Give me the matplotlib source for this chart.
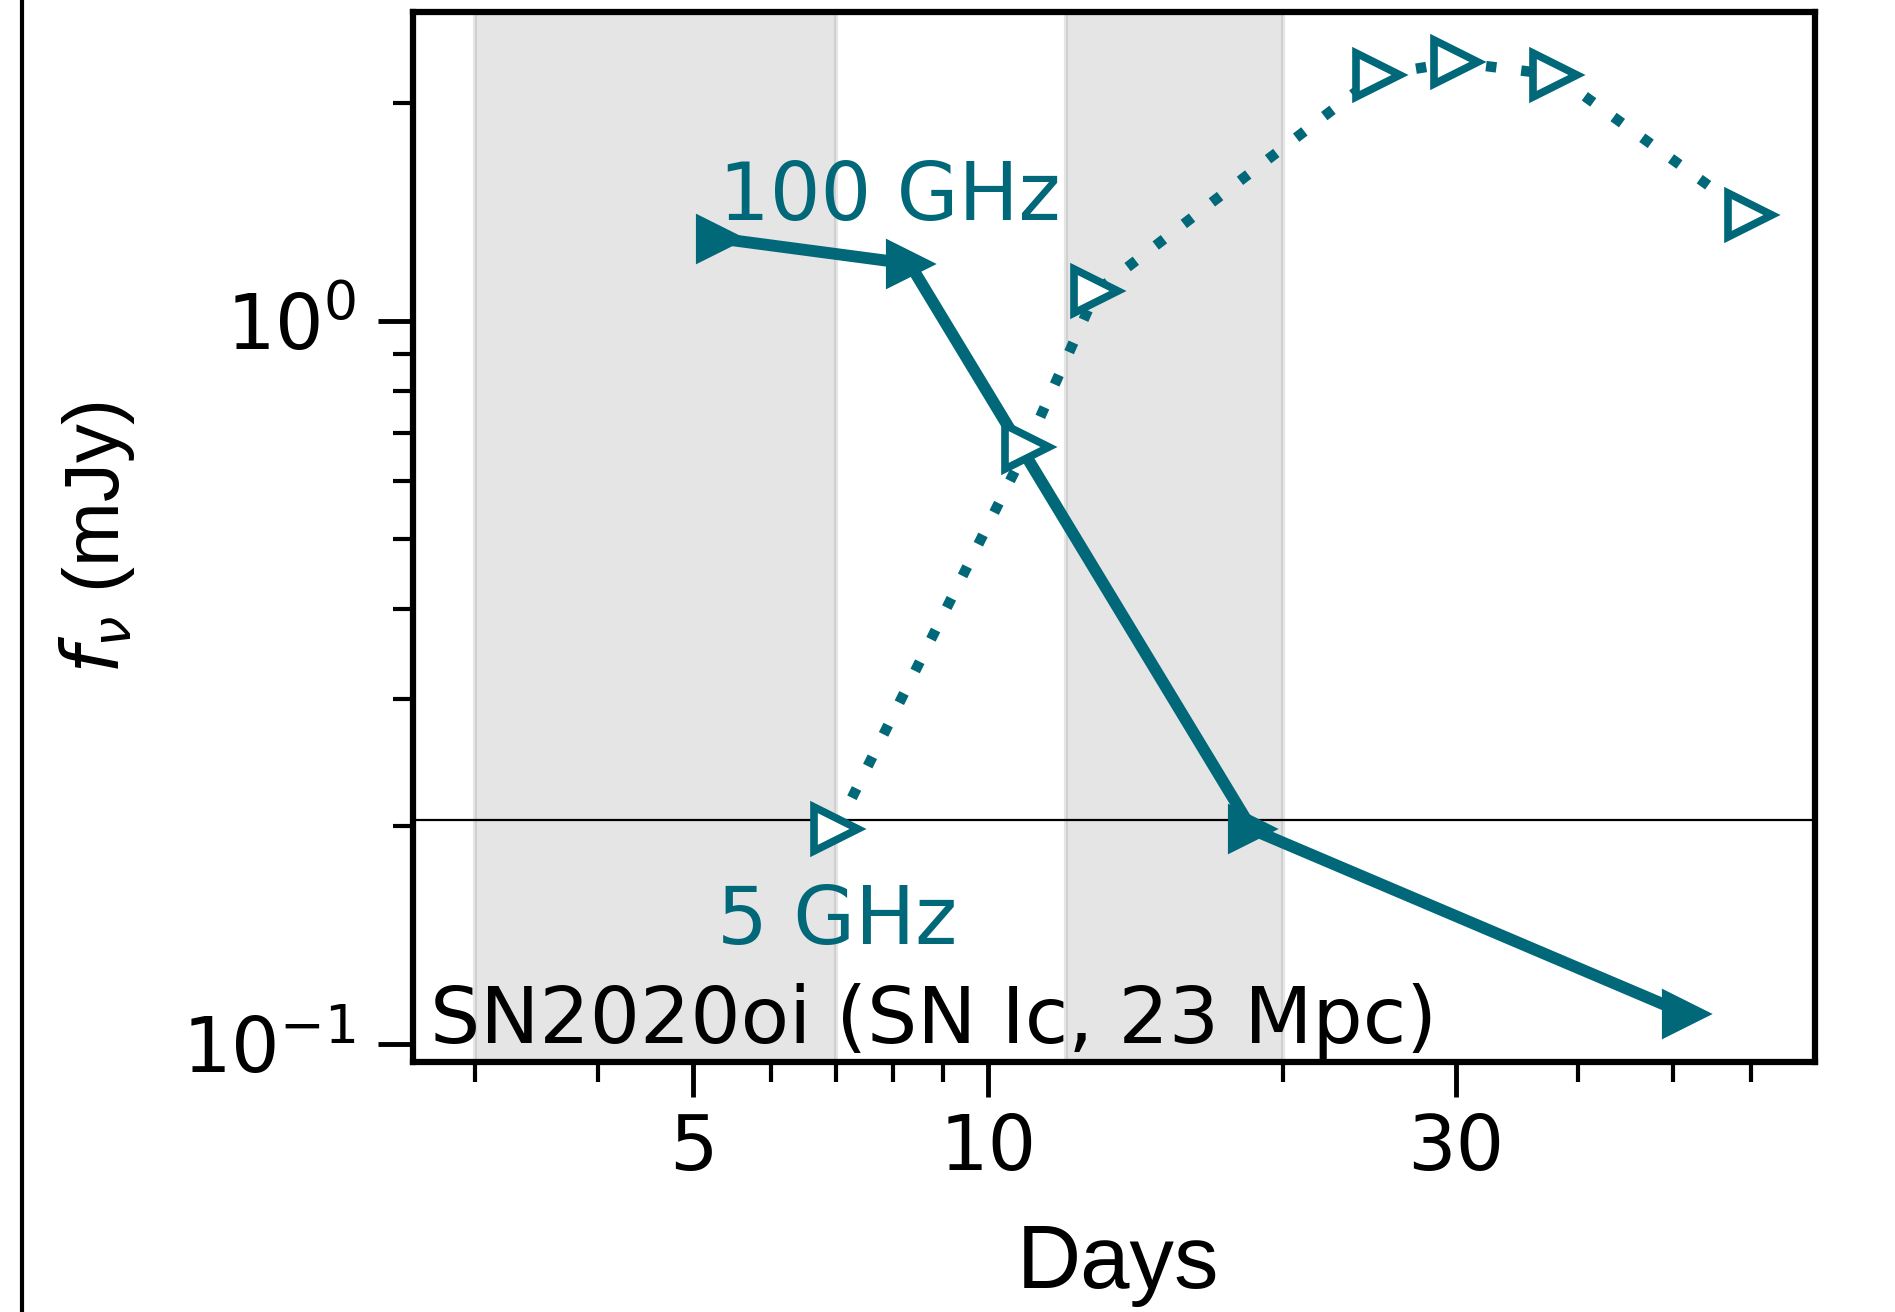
import matplotlib
matplotlib.use("Agg")
import matplotlib.pyplot as plt
from matplotlib.lines import Line2D
from matplotlib.ticker import FixedLocator, NullFormatter, FixedFormatter

plt.rcParams['mathtext.fontset'] = 'dejavusans'

# data (days, mJy)
days_100 = [5.33, 8.32, 18.6, 51.6]
flux_100 = [1.30, 1.20, 0.198, 0.11]
days_5 = [7.0, 10.96, 12.9, 25.0, 30.0, 37.9, 59.9]
flux_5 = [0.198, 0.67, 1.10, 2.19, 2.28, 2.19, 1.40]
shade_spans = [(3, 7), (12, 20)]
threshold = 0.204
xticks_major = [5, 10, 30]
teal = '#006878'

fig = plt.figure(figsize=(18.95, 13.12), dpi=100)
ax = fig.add_axes([0.2179, 0.1905, 0.7399, 0.8004])

for a, b in shade_spans:
    ax.axvspan(a, b, color='grey', alpha=0.2, lw=3, zorder=0)
ax.axhline(threshold, color='black', lw=1.6, zorder=1)

ax.plot(days_100, flux_100, '-', marker='>', color=teal, lw=8.5,
        ms=32, mew=3, zorder=3)
ax.plot(days_5, flux_5, linestyle=(0, (1, 2.4)), marker='>', color=teal, lw=7.5,
        ms=32, mew=5.5, mfc='white', zorder=3)

ax.set_xscale('log')
ax.set_yscale('log')
ax.set_xlim(2.59, 69.8)
ax.set_ylim(0.0944, 2.676)

ax.xaxis.set_major_locator(FixedLocator(xticks_major))
ax.xaxis.set_major_formatter(FixedFormatter([str(t) for t in xticks_major]))
ax.xaxis.set_minor_locator(FixedLocator([3, 4, 6, 7, 8, 9, 20, 40, 50, 60]))
ax.xaxis.set_minor_formatter(NullFormatter())

ax.tick_params(which='major', length=25, width=3.5, labelsize=55)
ax.tick_params(which='minor', length=14.4, width=3)
ax.tick_params(axis='x', which='both', pad=11)
ax.tick_params(axis='y', which='both', pad=16)
for s in ax.spines.values():
    s.set_linewidth(4.5)

ax.text(5.31, 1.38, '100 GHz', color=teal, fontsize=57.5)
ax.text(5.29, 0.1376, '5 GHz', color=teal, fontsize=57.5)
ax.text(0.012, 0.018, 'SN2020oi (SN Ic, 23 Mpc)', transform=ax.transAxes,
        fontsize=57, color='black')

fig.text(1118 / 1895, 1 - 1288 / 1312, 'Days', family='Liberation Sans',
         fontsize=64, ha='center', va='baseline')
fig.text(97 / 1895, 1 - 537 / 1312, r'$f_\nu$ (mJy)', family='Liberation Sans',
         fontsize=56, rotation=90, ha='center', va='center')

fig.add_artist(Line2D([22 / 1895, 22 / 1895], [0, 1], transform=fig.transFigure,
                      color='black', lw=3))

fig.savefig('out.png', dpi=100)
